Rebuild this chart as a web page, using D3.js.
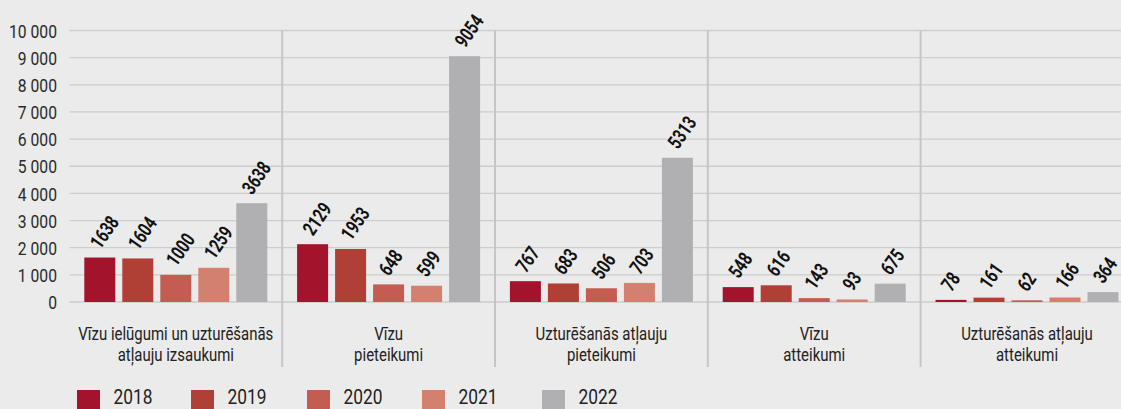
<!DOCTYPE html>
<html><head><meta charset="utf-8">
<script src="https://cdn.jsdelivr.net/npm/d3@7"></script>
<style>
html,body{margin:0;padding:0;background:#ebebeb;overflow:hidden}
svg{display:block}
text{font-family:"Roboto","Liberation Sans",sans-serif}
</style></head>
<body>
<svg id="chart" width="1121" height="409"></svg>
<script>
const categories = [
  ["Vīzu ielūgumi un uzturēšanās","atļauju izsaukumi"],
  ["Vīzu","pieteikumi"],
  ["Uzturēšanās atļauju","pieteikumi"],
  ["Vīzu","atteikumi"],
  ["Uzturēšanās atļauju","atteikumi"]
];
const years = ["2018","2019","2020","2021","2022"];
const values2018 = [1638, 2129, 767, 548, 78];
const values2019 = [1604, 1953, 683, 616, 161];
const values2020 = [1000, 648, 506, 143, 62];
const values2021 = [1259, 599, 703, 93, 166];
const values2022 = [3638, 9054, 5313, 675, 364];
const yTicks = [0,1000,2000,3000,4000,5000,6000,7000,8000,9000,10000];
const colors = ["#a3142c","#b03f36","#c45c51","#d3806f","#b0b0b2"];

const series = [values2018, values2019, values2020, values2021, values2022];
const svg = d3.select("#chart");
const left = 69.4, groupW = 212.8;
const x0 = d3.scaleBand().domain(d3.range(categories.length)).range([left, left + groupW*categories.length]).padding(0);
const x1 = d3.scaleBand().domain(years).range([0, groupW]).paddingInner(7/38).paddingOuter(0.392);
const y = d3.scaleLinear().domain([0,10000]).range([302, 30.5]);

// helper: measure text width to emulate a condensed face
function measure(str, size, weight){
  const t = svg.append("text").attr("font-size", size).attr("font-weight", weight||"normal").text(str);
  const w = t.node().getComputedTextLength(); t.remove(); return w;
}
const sTick = 48 / measure("10 000", 18.5);
const sVal = 34 / measure("1638", 20, "bold");
const sCat = 195 / measure("Vīzu ielūgumi un uzturēšanās", 18.3);
const sLeg = 39 / measure("2018", 20);

// gridlines
svg.append("g").selectAll("line").data(yTicks).join("line")
  .attr("x1", left).attr("x2", 1121)
  .attr("y1", d => y(d)).attr("y2", d => y(d))
  .attr("stroke", "#cdcdcd").attr("stroke-width", 1.3);

// y axis labels
const yAxis = d3.axisLeft(y).tickValues(yTicks).tickSize(0).tickPadding(0)
  .tickFormat(d => d3.format(",")(d).replace(/,/g, " "));
const ya = svg.append("g").attr("transform", "translate(57,0)").call(yAxis);
ya.select(".domain").remove();
ya.selectAll(".tick text").attr("x", null).attr("dy", null)
  .attr("y", 6.6)
  .attr("font-size", 18.5).attr("fill", "#2a2a2a")
  .attr("transform", `scale(${sTick},1)`)
  .style("font-family", '"Roboto",sans-serif');

// separators
svg.append("g").selectAll("line").data(d3.range(1, categories.length)).join("line")
  .attr("x1", d => x0(d)).attr("x2", d => x0(d))
  .attr("y1", y(10000)).attr("y2", 367)
  .attr("stroke", "#c6c6c6").attr("stroke-width", 2);

// bars
const groups = svg.append("g").selectAll("g").data(categories).join("g")
  .attr("transform", (d,i) => `translate(${x0(i)},0)`);
groups.each(function(c, ci){
  const g = d3.select(this);
  const rows = years.map((yr, k) => ({yr, k, v: series[k][ci]}));
  g.selectAll("rect").data(rows).join("rect")
    .attr("x", d => x1(d.yr)).attr("width", x1.bandwidth())
    .attr("y", d => y(d.v)).attr("height", d => y(0) - y(d.v))
    .attr("fill", d => colors[d.k]);
  g.selectAll("text.val").data(rows).join("text").attr("class","val")
    .attr("transform", d => `translate(${x1(d.yr) + x1.bandwidth()/2 + 0.5},${y(d.v) - 7.5}) rotate(-55) scale(${sVal},1)`)
    .attr("font-size", 20).attr("font-weight", "bold").attr("fill", "#111")
    .text(d => d.v);
  const lab = g.append("g").attr("transform", `translate(${groupW/2},0) scale(${sCat},1)`);
  lab.selectAll("text").data(c).join("text").attr("text-anchor","middle")
    .attr("x", 0).attr("y", (d,i) => 340 + i*21.5)
    .attr("font-size", 18.3).attr("fill", "#222").text(d => d);
});

// legend
const legX = [77, 191, 307, 422, 542];
const leg = svg.append("g").selectAll("g").data(years).join("g")
  .attr("transform", (d,i) => `translate(${legX[i]},390)`);
leg.append("rect").attr("width", 23).attr("height", 19).attr("fill", (d,i) => colors[i]);
leg.append("text").attr("transform", `translate(36.5,14.3) scale(${sLeg},1)`)
  .attr("font-size", 20).attr("fill", "#222").text(d => d);
</script>
</body></html>
